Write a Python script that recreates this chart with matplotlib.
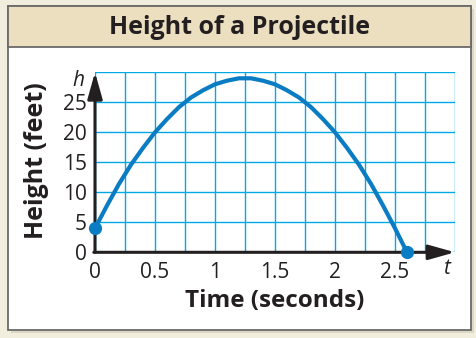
import matplotlib
matplotlib.use("Agg")
import matplotlib.pyplot as plt
from matplotlib.patches import Rectangle, FancyArrowPatch
import numpy as np

# data
time_s = [0.0, 0.1, 0.2, 0.3, 0.4, 0.5, 0.6, 0.7, 0.8, 0.9, 1.0, 1.1, 1.2, 1.3,
          1.4, 1.5, 1.6, 1.7, 1.8, 1.9, 2.0, 2.1, 2.2, 2.3, 2.4, 2.5, 2.6]
height_ft = [4.0, 7.8, 11.4, 14.6, 17.4, 20.0, 22.2, 24.2, 25.8, 27.0, 28.0, 28.6,
             29.0, 29.0, 28.6, 28.0, 27.0, 25.8, 24.2, 22.2, 20.0, 17.4, 14.6,
             11.4, 7.8, 4.0, 0.0]
x_ticks = [0, 0.5, 1, 1.5, 2, 2.5]
x_tick_labels = ["0", "0.5", "1", "1.5", "2", "2.5"]
y_ticks = [0, 5, 10, 15, 20, 25]
y_tick_labels = ["0", "5", "10", "15", "20", "25"]
title = "Height of a Projectile"
xlabel = "Time (seconds)"
ylabel = "Height (feet)"

W, H = 476, 338
FONT = ["Open Sans", "DejaVu Sans"]
plt.rcParams['font.family'] = FONT

fig = plt.figure(figsize=(W / 100, H / 100), dpi=100)
fig.patch.set_facecolor("#f2eedd")

def fx(x):
    return x / W

def fy(y):
    return 1 - y / H

# shadow
fig.patches.append(Rectangle((fx(11), fy(333)), fx(463), (333 - 9) / H,
                             transform=fig.transFigure, facecolor="#dcd8c8",
                             edgecolor="none", zorder=0))
# white panel
fig.patches.append(Rectangle((fx(8), fy(330)), fx(463), (330 - 6) / H,
                             transform=fig.transFigure, facecolor="white",
                             edgecolor="#6a6a6a", linewidth=1.3, zorder=1))
# title band
fig.patches.append(Rectangle((fx(8), fy(47)), fx(463), (47 - 6) / H,
                             transform=fig.transFigure, facecolor="#ecdfc0",
                             edgecolor="#6a6a6a", linewidth=1.3, zorder=2))

fig.text(fx(240), fy(27), title, ha="center", va="center", fontsize=18,
         fontweight="bold", color="#231f20", zorder=3)

ax = fig.add_axes([fx(95), fy(252.3), fx(360), 180 / H])
ax.set_zorder(10)
ax.set_facecolor("none")
ax.set_xlim(0, 3)
ax.set_ylim(0, 30)
for s in ax.spines.values():
    s.set_visible(False)

grid_c = "#00a9e6"
ax.set_xticks(x_ticks)
ax.set_xticklabels(x_tick_labels)
ax.set_yticks(y_ticks)
ax.set_yticklabels(y_tick_labels)
ax.set_xticks(np.arange(0, 3.01, 0.25), minor=True)
ax.set_yticks(np.arange(0, 30.1, 5), minor=True)
ax.tick_params(which="both", length=0)
ax.tick_params(axis="x", pad=7, labelsize=15, colors="#231f20")
ax.tick_params(axis="y", pad=6, labelsize=15, colors="#231f20")
ax.grid(True, which="both", color=grid_c, linewidth=1.0)
ax.set_axisbelow(True)

# axes with arrows
ax.add_patch(FancyArrowPatch((0, 0), (0, 30), arrowstyle="-|>,head_length=1.6,head_width=0.45",
                             mutation_scale=10, color="#231f20", linewidth=2.2,
                             shrinkA=0, shrinkB=0, clip_on=False, zorder=4))
ax.add_patch(FancyArrowPatch((-0.01, 0), (3, 0), arrowstyle="-|>,head_length=1.6,head_width=0.45",
                             mutation_scale=10, color="#231f20", linewidth=2.2,
                             shrinkA=0, shrinkB=0, clip_on=False, zorder=4))

curve_c = "#0a7cc4"
ax.plot(time_s, height_ft, color=curve_c, linewidth=3.0, solid_capstyle="round",
        zorder=5, clip_on=False)
ax.plot([time_s[0], time_s[-1]], [height_ft[0], height_ft[-1]], "o", color=curve_c,
        markersize=8.5, zorder=6, clip_on=False)

fig.text(fx(78), fy(80), "h", ha="center", va="center", fontsize=15,
         fontstyle="italic", color="#231f20")
fig.text(fx(446), fy(269), "t", ha="center", va="center", fontsize=15,
         fontstyle="italic", color="#231f20")

fig.text(fx(275), fy(301), xlabel, ha="center", va="center", fontsize=17.5,
         fontweight="bold", color="#231f20")
fig.text(fx(37), fy(161), ylabel, ha="center", va="center", fontsize=18,
         fontweight="bold", rotation=90, color="#231f20")

fig.savefig("out.png", dpi=100, facecolor=fig.get_facecolor())
